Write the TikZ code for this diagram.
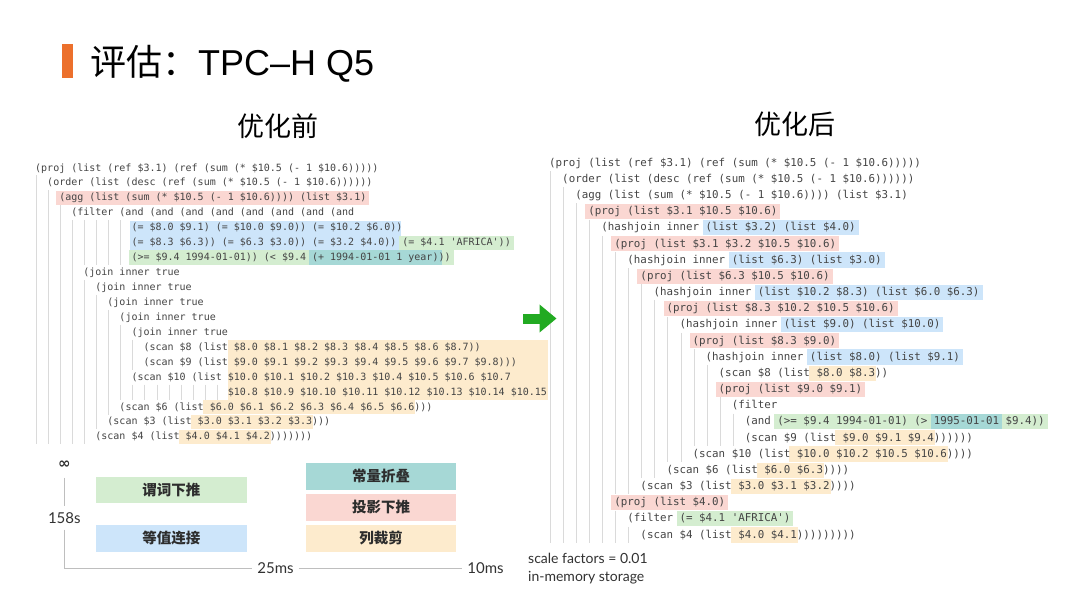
\documentclass[tikz,border=0pt]{standalone}
\usepackage{fontspec}
\setmonofont{DejaVu Sans Mono}
\newfontfamily\cjk{Noto Sans CJK SC}
\newfontfamily\lato{Lato}
\newfontfamily\helv{Liberation Sans}
\newfontfamily\dejavu{DejaVu Sans}
\usepackage{tikz}
\usetikzlibrary{arrows.meta}
\definecolor{codeGray}{RGB}{68,68,68}
\definecolor{guideGray}{RGB}{218,218,218}
\definecolor{axisGray}{RGB}{190,190,190}
\definecolor{labelGray}{RGB}{50,50,50}
\definecolor{legendText}{RGB}{45,45,45}
\definecolor{pinkHL}{RGB}{250,215,210}
\definecolor{blueHL}{RGB}{205,229,250}
\definecolor{greenHL}{RGB}{212,237,208}
\definecolor{tealHL}{RGB}{166,216,214}
\definecolor{orangeHL}{RGB}{253,235,205}
\definecolor{barOrange}{RGB}{236,112,44}
\definecolor{arrowGreen}{RGB}{34,170,34}

% listing geometry: prefix, x origin, char width, first row, row step, baseline shift
\newcommand\setside[6]{\def\sd{#1}\def\xo{#2}\def\cw{#3}\def\yo{#4}\def\dy{#5}\def\bo{#6}}
% one code row: row, indent (chars), text
\newcommand\coderow[3]{%
  \pgfmathsetmacro\yc{\yo+(#1-1)*\dy}%
  \pgfmathtruncatemacro\nguide{#2/2}%
  \ifnum\nguide>0\relax
    \foreach \k in {1,...,\nguide}
      \draw[guide] ({\xo+(2*\k-2)*\cw+1.5},{\yc-\dy/2}) -- ++(0,\dy);
  \fi
  \node[code] (\sd#1) at ({\xo+#2*\cw},{\yc+\bo}) {#3};
}
% highlight behind a row: [pad], colour, row, column, text
\newcommand\hlbox[5][3]{%
  \pgfmathsetmacro\yc{\yo+(#3-1)*\dy}%
  \node[hl, fill=#2, inner xsep=#1pt] (\sd#3-#4) at ({\xo+#4*\cw-#1},{\yc+\bo}) {\phantom{#5}};
}

\begin{document}
\begin{tikzpicture}[x=1pt, y=-1pt,
  guide/.style={draw=guideGray, line width=0.8pt},
  block/.style={inner sep=0pt, anchor=north west},
  legend/.style={minimum width=150.7pt, minimum height=26.7pt, inner sep=0pt,
    text=legendText, font=\cjk\bfseries\fontsize{14.5}{16}\selectfont},
  head/.style={font=\cjk\fontsize{27}{30}\selectfont},
  axis/.style={draw=axisGray, line width=0.8pt},
  tick/.style={text=labelGray, font=\lato\fontsize{15}{17}\selectfont, inner xsep=5pt, inner ysep=6pt},
  note/.style={anchor=west, inner sep=0pt, text=labelGray, font=\lato\fontsize{14}{16}\selectfont},
]
  \fill[white] (0,0) rectangle (1080,608);
  \useasboundingbox (0,0) rectangle (1080,608);

  % title
  \fill[barOrange] (61.7,44) rectangle (72.7,78);
  \node[anchor=base west, inner sep=0pt, font=\fontsize{36}{40}\selectfont] (title) at (90,75.5)
    {{\cjk 评估：}{\helv TPC–H Q5}};
  \node[head] (before) at (277.5,126.5) {优化前};
  \node[head] (after) at (795,124.5) {优化后};

  % before
  \begin{scope}[
    code/.style={anchor=base west, inner sep=0pt, text=codeGray, font=\ttfamily\fontsize{10}{12}\selectfont},
    hl/.style={anchor=base west, inner ysep=0pt, text height=10.2pt, text depth=4.2pt,
      font=\ttfamily\fontsize{10}{12}\selectfont},
  ]
    \setside{L}{35}{6.02}{168}{14.94}{3.0}
    \coderow{1}{0}{(proj (list (ref \$3.1) (ref (sum (* \$10.5 (- 1 \$10.6)))))}
    \coderow{2}{2}{(order (list (desc (ref (sum (* \$10.5 (- 1 \$10.6))))))}
    \hlbox{pinkHL}{3}{4}{(agg (list (sum (* \$10.5 (- 1 \$10.6)))) (list \$3.1)}
    \coderow{3}{4}{(agg (list (sum (* \$10.5 (- 1 \$10.6)))) (list \$3.1)}
    \coderow{4}{6}{(filter (and (and (and (and (and (and (and (and}
    \node[block, fill=blueHL, minimum width=271.7pt, minimum height=29.3pt] (L-eqblock) at (129.3,220.6) {};
    \coderow{5}{16}{(= \$8.0 \$9.1) (= \$10.0 \$9.0)) (= \$10.2 \$6.0))}
    \hlbox{greenHL}{6}{61}{(= \$4.1 'AFRICA'))}
    \coderow{6}{16}{(= \$8.3 \$6.3)) (= \$6.3 \$3.0)) (= \$3.2 \$4.0)) (= \$4.1 'AFRICA'))}
    \hlbox{greenHL}{7}{16}{(>= \$9.4 1994-01-01)) (< \$9.4 (+ 1994-01-01 1 year)))}
    \hlbox{tealHL}{7}{46}{(+ 1994-01-01 1 year)}
    \coderow{7}{16}{(>= \$9.4 1994-01-01)) (< \$9.4 (+ 1994-01-01 1 year)))}
    \coderow{8}{8}{(join inner true}
    \coderow{9}{10}{(join inner true}
    \coderow{10}{12}{(join inner true}
    \coderow{11}{14}{(join inner true}
    \coderow{12}{16}{(join inner true}
    \node[block, fill=orangeHL, minimum width=320.5pt, minimum height=59.2pt] (L-scanblock) at (227.5,340.1) {};
    \coderow{13}{18}{(scan \$8 (list \$8.0 \$8.1 \$8.2 \$8.3 \$8.4 \$8.5 \$8.6 \$8.7))}
    \coderow{14}{18}{(scan \$9 (list \$9.0 \$9.1 \$9.2 \$9.3 \$9.4 \$9.5 \$9.6 \$9.7 \$9.8)))}
    \coderow{15}{16}{(scan \$10 (list \$10.0 \$10.1 \$10.2 \$10.3 \$10.4 \$10.5 \$10.6 \$10.7}
    \coderow{16}{32}{\$10.8 \$10.9 \$10.10 \$10.11 \$10.12 \$10.13 \$10.14 \$10.15}
    \hlbox[1]{orangeHL}{17}{28}{\ \$6.0 \$6.1 \$6.2 \$6.3 \$6.4 \$6.5 \$6.6}
    \coderow{17}{14}{(scan \$6 (list \$6.0 \$6.1 \$6.2 \$6.3 \$6.4 \$6.5 \$6.6)))}
    \hlbox[1]{orangeHL}{18}{26}{\ \$3.0 \$3.1 \$3.2 \$3.3}
    \coderow{18}{12}{(scan \$3 (list \$3.0 \$3.1 \$3.2 \$3.3)))}
    \hlbox[1]{orangeHL}{19}{24}{\ \$4.0 \$4.1 \$4.2}
    \coderow{19}{10}{(scan \$4 (list \$4.0 \$4.1 \$4.2)))))))}
  \end{scope}

  % after
  \begin{scope}[
    code/.style={anchor=base west, inner sep=0pt, text=codeGray, font=\ttfamily\fontsize{10.83}{13}\selectfont},
    hl/.style={anchor=base west, inner ysep=0pt, text height=10.85pt, text depth=4.35pt,
      font=\ttfamily\fontsize{10.83}{13}\selectfont},
  ]
    \setside{R}{549}{6.52}{163}{16.17}{3.25}
    \coderow{1}{0}{(proj (list (ref \$3.1) (ref (sum (* \$10.5 (- 1 \$10.6)))))}
    \coderow{2}{2}{(order (list (desc (ref (sum (* \$10.5 (- 1 \$10.6))))))}
    \coderow{3}{4}{(agg (list (sum (* \$10.5 (- 1 \$10.6)))) (list \$3.1)}
    \hlbox{pinkHL}{4}{6}{(proj (list \$3.1 \$10.5 \$10.6)}
    \coderow{4}{6}{(proj (list \$3.1 \$10.5 \$10.6)}
    \hlbox{blueHL}{5}{24}{(list \$3.2) (list \$4.0)}
    \coderow{5}{8}{(hashjoin inner (list \$3.2) (list \$4.0)}
    \hlbox{pinkHL}{6}{10}{(proj (list \$3.1 \$3.2 \$10.5 \$10.6)}
    \coderow{6}{10}{(proj (list \$3.1 \$3.2 \$10.5 \$10.6)}
    \hlbox{blueHL}{7}{28}{(list \$6.3) (list \$3.0)}
    \coderow{7}{12}{(hashjoin inner (list \$6.3) (list \$3.0)}
    \hlbox{pinkHL}{8}{14}{(proj (list \$6.3 \$10.5 \$10.6)}
    \coderow{8}{14}{(proj (list \$6.3 \$10.5 \$10.6)}
    \hlbox{blueHL}{9}{32}{(list \$10.2 \$8.3) (list \$6.0 \$6.3)}
    \coderow{9}{16}{(hashjoin inner (list \$10.2 \$8.3) (list \$6.0 \$6.3)}
    \hlbox{pinkHL}{10}{18}{(proj (list \$8.3 \$10.2 \$10.5 \$10.6)}
    \coderow{10}{18}{(proj (list \$8.3 \$10.2 \$10.5 \$10.6)}
    \hlbox{blueHL}{11}{36}{(list \$9.0) (list \$10.0)}
    \coderow{11}{20}{(hashjoin inner (list \$9.0) (list \$10.0)}
    \hlbox{pinkHL}{12}{22}{(proj (list \$8.3 \$9.0)}
    \coderow{12}{22}{(proj (list \$8.3 \$9.0)}
    \hlbox{blueHL}{13}{40}{(list \$8.0) (list \$9.1)}
    \coderow{13}{24}{(hashjoin inner (list \$8.0) (list \$9.1)}
    \hlbox[1]{orangeHL}{14}{40}{\ \$8.0 \$8.3}
    \coderow{14}{26}{(scan \$8 (list \$8.0 \$8.3))}
    \hlbox{pinkHL}{15}{26}{(proj (list \$9.0 \$9.1)}
    \coderow{15}{26}{(proj (list \$9.0 \$9.1)}
    \coderow{16}{28}{(filter}
    \hlbox{greenHL}{17}{35}{(>= \$9.4 1994-01-01) (> 1995-01-01 \$9.4))}
    \hlbox{tealHL}{17}{59}{1995-01-01}
    \coderow{17}{30}{(and (>= \$9.4 1994-01-01) (> 1995-01-01 \$9.4))}
    \hlbox[1]{orangeHL}{18}{44}{\ \$9.0 \$9.1 \$9.4}
    \coderow{18}{30}{(scan \$9 (list \$9.0 \$9.1 \$9.4))))))}
    \hlbox[1]{orangeHL}{19}{37}{\ \$10.0 \$10.2 \$10.5 \$10.6}
    \coderow{19}{22}{(scan \$10 (list \$10.0 \$10.2 \$10.5 \$10.6))))}
    \hlbox[1]{orangeHL}{20}{32}{\ \$6.0 \$6.3}
    \coderow{20}{18}{(scan \$6 (list \$6.0 \$6.3))))}
    \hlbox[1]{orangeHL}{21}{28}{\ \$3.0 \$3.1 \$3.2}
    \coderow{21}{14}{(scan \$3 (list \$3.0 \$3.1 \$3.2))))}
    \hlbox{pinkHL}{22}{10}{(proj (list \$4.0)}
    \coderow{22}{10}{(proj (list \$4.0)}
    \hlbox{greenHL}{23}{20}{(= \$4.1 'AFRICA')}
    \coderow{23}{12}{(filter (= \$4.1 'AFRICA')}
    \hlbox[1]{orangeHL}{24}{28}{\ \$4.0 \$4.1}
    \coderow{24}{14}{(scan \$4 (list \$4.0 \$4.1)))))))))}
  \end{scope}

  % arrow between the plans
  \coordinate (arrowTail) at (523,318.5);
  \coordinate (arrowTip) at (556.5,318.5);
  \draw[arrowGreen, line width=10pt, -{Triangle[length=17pt,width=27pt]}] (arrowTail) -- (arrowTip);

  % legend
  \node[legend, fill=greenHL] (pushdown) at (171.3,490) {谓词下推};
  \node[legend, fill=blueHL] (equijoin) at (171.3,538.3) {等值连接};
  \node[legend, fill=tealHL] (constfold) at (381,476.3) {常量折叠};
  \node[legend, fill=pinkHL] (projpush) at (381,507.3) {投影下推};
  \node[legend, fill=orangeHL] (colprune) at (381,538.3) {列裁剪};

  % timing axis
  \node[tick, inner ysep=9pt, font=\dejavu\bfseries\fontsize{15}{17}\selectfont] (inf) at (64.3,465) {∞};
  \node[tick] (t158) at (64.3,518) {158s};
  \node[tick] (t25) at (275.5,568) {25ms};
  \node[tick] (t10) at (485.5,568) {10ms};
  \coordinate (corner) at (64.3,568);
  \draw[axis] (inf) -- (t158) -- (corner) -- (t25) -- (t10);

  \node[note] (scale) at (528,558) {scale factors = 0.01};
  \node[note] (storage) at (528,577.5) {in-memory storage};
\end{tikzpicture}
\end{document}
